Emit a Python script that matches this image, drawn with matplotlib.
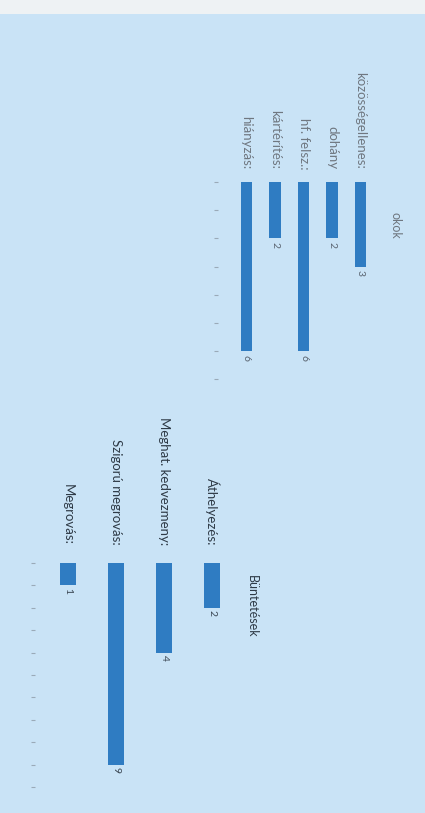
import matplotlib
matplotlib.use("Agg")
import matplotlib.pyplot as plt
from matplotlib.patches import Rectangle

# ---- data ----
okok_labels = ["közösségellenes:", "dohány", "hf. felsz.:", "kártérítés:", "hiányzás:"]
okok_values = [3, 2, 6, 2, 6]
okok_ticks = list(range(0, 8))

bunt_labels = ["Áthelyezés:", "Meghat. kedvezmeny:", "Szigorú megrovás:", "Megrovás:"]
bunt_values = [2, 4, 9, 1]
bunt_ticks = list(range(0, 11))

W, H = 425, 813
BG = "#c9e3f6"
BAR = "#2f7cc2"
plt.rcParams['font.family'] = ['Lato', 'DejaVu Sans']

fig = plt.figure(figsize=(W / 100, H / 100), dpi=100, facecolor=BG)
# whitish scan strip at top
fig.patches.append(Rectangle((0, 1 - 14 / H), 1, 14 / H, transform=fig.transFigure,
                             facecolor="#eef2f4", edgecolor="none", zorder=-1))


def px_axes(left, top, right, bottom):
    return fig.add_axes([left / W, 1 - bottom / H, (right - left) / W, (bottom - top) / H])


def draw(ax, labels, values, ticks, width, label_color, label_size, label_gap,
         val_color, xlim, ylim):
    n = len(labels)
    # reading order is right-to-left on the page
    xs = [n - 1 - i for i in range(n)]
    ax.bar(xs, values, width=width, color=BAR, align="center")
    ax.set_xlim(*xlim)
    ax.set_ylim(*ylim)
    ax.set_facecolor("none")
    for s in ax.spines.values():
        s.set_visible(False)
    ax.set_xticks([])
    ax.set_yticks(ticks)
    ax.set_yticklabels([])
    ax.tick_params(axis="y", length=3, width=0.8, color="#9aaab8", direction="out")
    for x, lab, v in zip(xs, labels, values):
        ax.text(x, -label_gap, lab, rotation=-90, ha="center", va="bottom",
                color=label_color, fontsize=label_size, clip_on=False)
        ax.text(x, v + 0.12, str(v), rotation=-90, ha="center", va="top",
                color=val_color, fontsize=7.5, clip_on=False)


# top chart: "okok"
ax1 = px_axes(218, 182, 390, 392)
draw(ax1, okok_labels, okok_values, okok_ticks, 0.39, "#6f7780", 9.5, 0.45,
     "#5a6470", (-1.0, -1.0 + 172 / 28.5), (210 / 28.2, 0))
fig.text(395 / W, 1 - 225 / H, "okok", rotation=-90, ha="center", va="center",
         color="#6f7780", fontsize=9)

# bottom chart: "Büntetések"
ax2 = px_axes(35, 563, 260, 795)
draw(ax2, bunt_labels, bunt_values, bunt_ticks, 0.33, "#2e3a46", 9.5, 0.8,
     "#3a4652", (-0.69, -0.69 + 225 / 48), (232 / 22.4, 0))
fig.text(252 / W, 1 - 606 / H, "Büntetések", rotation=-90, ha="center", va="center",
         color="#2e3a46", fontsize=9)

fig.savefig("out.png", dpi=100, facecolor=BG)
